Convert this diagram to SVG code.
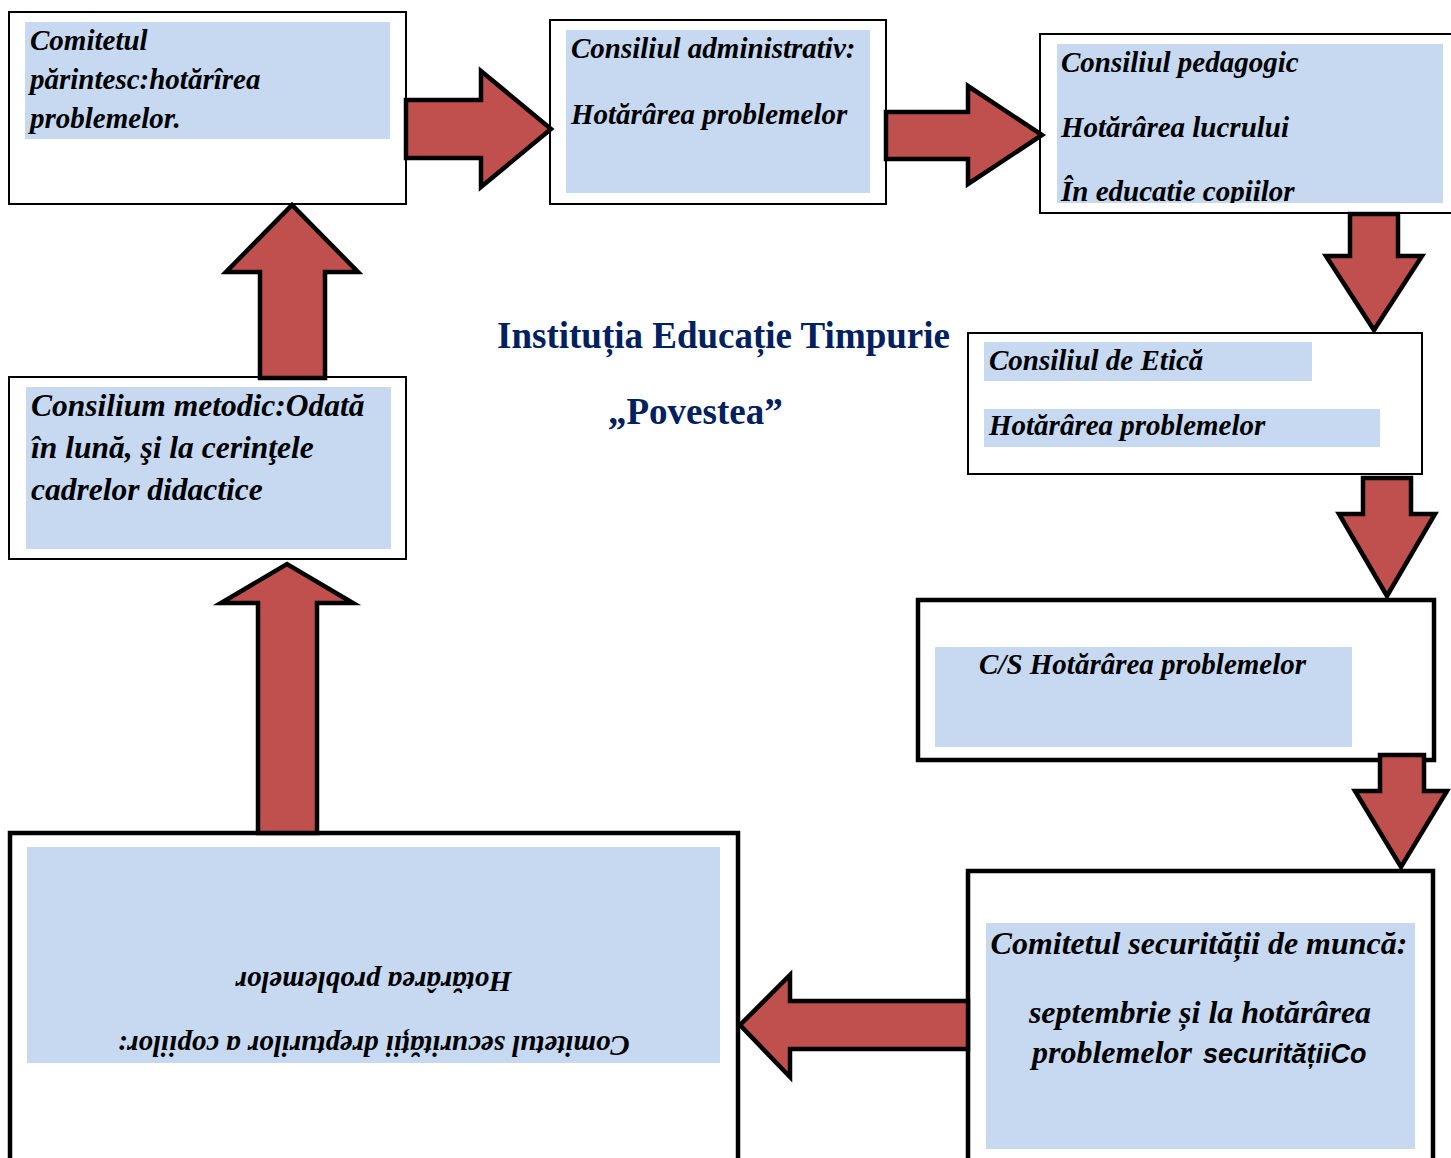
<svg xmlns="http://www.w3.org/2000/svg" width="1451" height="1158" viewBox="0 0 1451 1158">
<style>
.frame{fill:#fff;stroke:#000;stroke-width:2}
.frame-thick{fill:#fff;stroke:#000;stroke-width:4.5}
.fill{fill:#C6D9F1}
.t{font-family:"Liberation Serif","Times New Roman",serif;font-weight:bold;font-style:italic;fill:#000;font-size:29px}
.s{font-family:"Liberation Sans",Arial,sans-serif;font-weight:bold;font-style:italic;fill:#000;font-size:27px}
.title{font-family:"Liberation Serif","Times New Roman",serif;font-weight:bold;fill:#002060;font-size:37px}
.arrow{fill:#C0504D;stroke:#000;stroke-width:4.5;stroke-linejoin:miter}
</style>
<defs>
<clipPath id="clip3"><rect x="1057" y="44" width="386" height="159"/></clipPath>
</defs>
<rect width="1451" height="1158" fill="#fff"/>

<g id="node-comitetul-parintesc">
<rect class="frame" x="9" y="12" width="397" height="192"/>
<rect class="fill" x="25" y="22" width="365" height="117"/>
<text class="t" x="30" y="50">Comitetul</text>
<text class="t" x="30" y="89">părintesc:hotărîrea</text>
<text class="t" x="30" y="128">problemelor.</text>
</g>

<g id="node-consiliul-administrativ">
<rect class="frame" x="550" y="20" width="336" height="184"/>
<rect class="fill" x="566" y="30" width="304" height="163"/>
<text class="t" x="571" y="58">Consiliul administrativ:</text>
<text class="t" x="571" y="124">Hotărârea problemelor</text>
</g>

<g id="node-consiliul-pedagogic">
<rect class="frame" x="1040" y="34" width="420" height="179"/>
<rect class="fill" x="1057" y="44" width="386" height="159"/>
<text class="t" x="1061" y="72">Consiliul pedagogic</text>
<text class="t" x="1061" y="137">Hotărârea lucrului</text>
<text class="t" x="1061" y="201" clip-path="url(#clip3)">În educatie copiilor</text>
</g>

<g id="node-consiliul-etica">
<rect class="frame" x="968" y="333" width="454" height="141"/>
<rect class="fill" x="984" y="342" width="328" height="39"/>
<rect class="fill" x="984" y="409" width="396" height="38"/>
<text class="t" x="989" y="370">Consiliul de Etică</text>
<text class="t" x="989" y="435">Hotărârea problemelor</text>
</g>

<g id="node-cs">
<rect class="frame-thick" x="918" y="600" width="516" height="160"/>
<rect class="fill" x="935" y="647" width="417" height="100"/>
<text class="t" x="979" y="674">C/S Hotărârea problemelor</text>
</g>

<g id="node-securitatea-muncii">
<rect class="frame-thick" x="968" y="871" width="465" height="300"/>
<rect class="fill" x="986" y="923" width="429" height="226"/>
<text class="t" x="1199" y="954" text-anchor="middle" style="font-size:32px">Comitetul securității de muncă:</text>
<text class="t" x="1200" y="1023" text-anchor="middle" style="font-size:32px">septembrie și la hotărârea</text>
<text class="t" x="1032" y="1063" style="font-size:32px">problemelor</text>
<text class="s" x="1203" y="1063">securitățiiCo</text>
</g>

<g id="node-drepturile-copiilor">
<rect class="frame-thick" x="10" y="833" width="728" height="340"/>
<rect class="fill" x="27" y="847" width="693" height="216"/>
<text class="t" transform="translate(373.5,972) rotate(180)" x="0" y="0" text-anchor="middle">Hotărârea problemelor</text>
<text class="t" transform="translate(373.5,1036) rotate(180)" x="0" y="0" text-anchor="middle">Comitetul securității drepturilor a copiilor:</text>
</g>

<g id="node-consilium-metodic">
<rect class="frame" x="9" y="377" width="397" height="182"/>
<rect class="fill" x="26" y="387" width="365" height="162"/>
<text class="t" x="31" y="416" style="font-size:31.5px">Consilium metodic:Odată</text>
<text class="t" x="31" y="458" style="font-size:31.5px">în lună, şi la cerinţele</text>
<text class="t" x="31" y="500" style="font-size:31.5px">cadrelor didactice</text>
</g>

<g id="title">
<text class="title" x="497" y="348">Instituția Educație Timpurie</text>
<text class="title" x="608" y="424">„Povestea”</text>
</g>

<g id="connectors">
<polygon class="arrow" points="406,100 481,100 481,71 551,129 481,187 481,158 406,158"/>
<polygon class="arrow" points="886,112 968,112 968,86 1042,135 968,184 968,159 886,159"/>
<polygon class="arrow" points="1350,214 1398,214 1398,256 1422,256 1374,330 1326,256 1350,256"/>
<polygon class="arrow" points="1363,478 1411,478 1411,514 1435,514 1387,596 1339,514 1363,514"/>
<polygon class="arrow" points="1380,755 1424,755 1424,791 1447,791 1401,867 1355,791 1380,791"/>
<polygon class="arrow" points="968,1001 790,1001 790,975 740,1025 790,1077 790,1049 968,1049"/>
<polygon class="arrow" points="258,833 317,833 317,603 353,603 287,564 221,603 258,603"/>
<polygon class="arrow" points="260,378 325,378 325,272 358,272 292,205 226,272 260,272"/>
</g>
</svg>
